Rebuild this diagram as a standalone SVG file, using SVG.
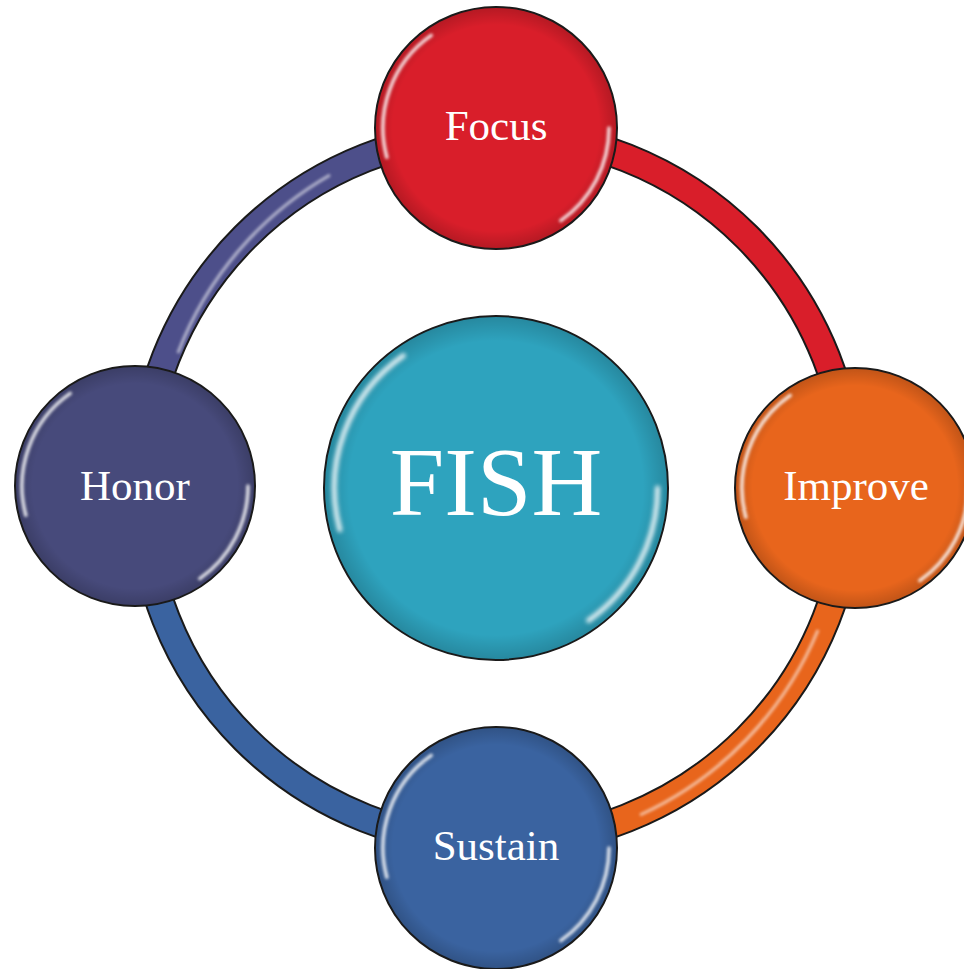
<svg xmlns="http://www.w3.org/2000/svg" xmlns:xlink="http://www.w3.org/1999/xlink" width="964" height="969" viewBox="0 0 964 969">
<style>
.band-out{fill:none;stroke:#1a1a1a;stroke-width:30}
.band{fill:none;stroke-width:26}
.node-c{stroke:#1a1a1a;stroke-width:2}
.lbl{font-family:"Liberation Serif","Times New Roman",serif;fill:#ffffff;text-anchor:middle;font-size:43px}
.gloss{fill:none;stroke:#ffffff;stroke-width:3.5;stroke-linecap:round;opacity:0.85}
</style>
<defs>
<filter id="soft" x="-20%" y="-20%" width="140%" height="140%"><feGaussianBlur stdDeviation="1.5"/></filter>
<radialGradient id="shade" cx="50%" cy="50%" r="50%">
<stop offset="0.86" stop-color="#000" stop-opacity="0"/>
<stop offset="1" stop-color="#000" stop-opacity="0.16"/>
</radialGradient>
<path id="gl" d="M-109.2,29.2 A113,113 0 0 1 -64.8,-92.6 M113,0 A113,113 0 0 1 64.8,92.6"/>
</defs>
<rect width="964" height="969" fill="#ffffff"/>
<g id="connectors">
<path class="band-out" d="M496,133 A355,355 0 0 1 851,488"/>
<path class="band" stroke="#d91e2a" d="M496,133 A355,355 0 0 1 851,488"/>
<path class="band-out" d="M851,488 A355,355 0 0 1 496,843"/>
<path class="band" stroke="#e8651c" d="M851,488 A355,355 0 0 1 496,843"/>
<path class="band-out" d="M496,843 A355,355 0 0 1 141,488"/>
<path class="band" stroke="#3a63a0" d="M496,843 A355,355 0 0 1 141,488"/>
<path class="band-out" d="M141,488 A355,355 0 0 1 496,133"/>
<path class="band" stroke="#4d4f8a" d="M141,488 A355,355 0 0 1 496,133"/>
<path d="M178,353 A348,348 0 0 1 330,175" fill="none" stroke="#ffffff" stroke-width="3" opacity="0.6" filter="url(#soft)"/>
<path d="M818,630 A350,350 0 0 1 640,815" fill="none" stroke="#ffffff" stroke-width="3" opacity="0.6" filter="url(#soft)"/>
</g>
<g id="node-focus">
<circle class="node-c" cx="496" cy="128" r="121" fill="#d91e2a"/>
<circle cx="496" cy="128" r="120" fill="url(#shade)"/>
<use href="#gl" class="gloss" transform="translate(496,128)" filter="url(#soft)"/>
<text class="lbl" x="496" y="140">Focus</text>
</g>
<g id="node-improve">
<circle class="node-c" cx="855" cy="488" r="120" fill="#e8651c"/>
<circle cx="855" cy="488" r="119" fill="url(#shade)"/>
<use href="#gl" class="gloss" transform="translate(855,488)" filter="url(#soft)"/>
<text class="lbl" x="856" y="500">Improve</text>
</g>
<g id="node-sustain">
<circle class="node-c" cx="496" cy="848" r="121" fill="#3a63a0"/>
<circle cx="496" cy="848" r="120" fill="url(#shade)"/>
<use href="#gl" class="gloss" transform="translate(496,848)" filter="url(#soft)"/>
<text class="lbl" x="496" y="860">Sustain</text>
</g>
<g id="node-honor">
<circle class="node-c" cx="135" cy="486" r="120" fill="#474a7b"/>
<circle cx="135" cy="486" r="119" fill="url(#shade)"/>
<use href="#gl" class="gloss" transform="translate(135,486)" filter="url(#soft)"/>
<text class="lbl" x="135" y="500">Honor</text>
</g>
<g id="node-fish">
<circle class="node-c" cx="496" cy="488" r="172" fill="#2ea3be"/>
<circle cx="496" cy="488" r="171" fill="url(#shade)"/>
<use href="#gl" class="gloss" transform="translate(496,488) scale(1.43)" filter="url(#soft)"/>
<text class="lbl" x="496" y="515" style="font-size:98px">FISH</text>
</g>
</svg>
